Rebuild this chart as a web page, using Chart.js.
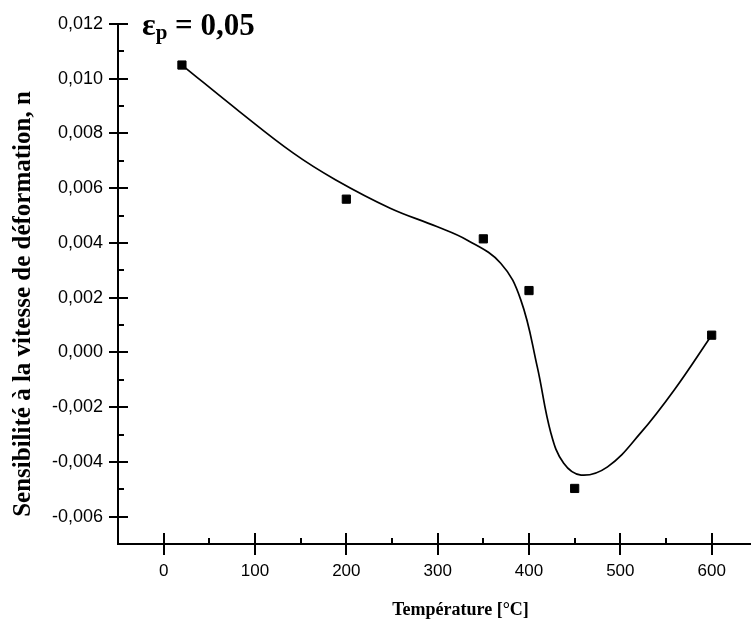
<!DOCTYPE html>
<html lang="fr">
<head>
<meta charset="utf-8">
<script src="https://cdn.jsdelivr.net/npm/chart.js@4.4.1/dist/chart.umd.min.js"></script>
<style>
  html, body { margin: 0; padding: 0; background: #fff; overflow: hidden; }
  #Contenedor { width: 810px; height: 628px; }
</style>
</head>
<body>
<div id="Contenedor"><canvas id="Grafico" width="810" height="628"></canvas></div>
<script>
// Points mesurés
const Temperaturas = [20, 200, 350, 400, 450, 600];
const Sensibilites = [0.0105, 0.0056, 0.00415, 0.00226, -0.00497, 0.00063];

// Courbe lissée
const CourbeT = [20, 83, 142, 188, 248, 299, 332, 369, 391, 409, 424, 438, 457, 486, 522, 559, 600];
const CourbeN = [0.0105, 0.0088, 0.00728, 0.00631, 0.00527, 0.0046, 0.00411, 0.00326, 0.00192, -0.00052, -0.00295, -0.00405, -0.00448, -0.00418, -0.00295, -0.00137, 0.00063];

const TicksX   = [0, 100, 200, 300, 400, 500, 600];
const MineursX = [50, 150, 250, 350, 450, 550, 650];
const TicksY   = [-0.006, -0.004, -0.002, 0, 0.002, 0.004, 0.006, 0.008, 0.010, 0.012];
const MineursY = [-0.005, -0.003, -0.001, 0.001, 0.003, 0.005, 0.007, 0.009, 0.011];

const TitreX = 'Température [°C]';
const TitreY = 'Sensibilité à la vitesse de déformation, n';

const FormatY = V => V.toFixed(3).replace('.', ',');

// ticks qui traversent l'axe, ticks mineurs, titre Y et annotation
const PluginAxes = {
  id: 'PluginAxes',
  afterDraw(Chart) {
    const Ctx = Chart.ctx;
    const { x: EchX, y: EchY } = Chart.scales;
    const Bas = Chart.chartArea.bottom;
    const Gauche = Chart.chartArea.left;

    Ctx.save();
    Ctx.strokeStyle = '#000';
    Ctx.lineWidth = 2;
    Ctx.beginPath();
    TicksX.forEach(V => {
      const P = Math.round(EchX.getPixelForValue(V));
      Ctx.moveTo(P, Bas); Ctx.lineTo(P, Bas - 11);
    });
    MineursX.forEach(V => {
      const P = Math.round(EchX.getPixelForValue(V));
      Ctx.moveTo(P, Bas); Ctx.lineTo(P, Bas - 6);
    });
    TicksY.forEach(V => {
      const P = Math.round(EchY.getPixelForValue(V));
      Ctx.moveTo(Gauche, P); Ctx.lineTo(Gauche + 10, P);
    });
    MineursY.forEach(V => {
      const P = Math.round(EchY.getPixelForValue(V));
      Ctx.moveTo(Gauche, P); Ctx.lineTo(Gauche + 6, P);
    });
    Ctx.stroke();

    Ctx.fillStyle = '#000';

    // titre de l'axe Y (un peu plus bas que le centre de l'axe)
    Ctx.save();
    Ctx.translate(24, 304);
    Ctx.rotate(-Math.PI / 2);
    Ctx.font = 'bold 25px "Liberation Serif"';
    Ctx.textAlign = 'center';
    Ctx.textBaseline = 'middle';
    Ctx.fillText(TitreY, 0, 0);
    Ctx.restore();

    // εp = 0,05
    Ctx.textBaseline = 'alphabetic';
    Ctx.textAlign = 'left';
    let X = 142;
    Ctx.font = 'bold 32px "Liberation Serif"';
    Ctx.fillText('ε', X, 35);
    X += Ctx.measureText('ε').width;
    Ctx.font = 'bold 21px "Liberation Serif"';
    Ctx.fillText('p', X, 39);
    X += Ctx.measureText('p').width;
    Ctx.font = 'bold 31px "Liberation Serif"';
    Ctx.fillText(' = 0,05', X, 35);
    Ctx.restore();
  }
};

new Chart(document.getElementById('Grafico').getContext('2d'), {
  type: 'scatter',
  data: {
    datasets: [
      {
        label: 'Courbe',
        data: CourbeT.map((T, I) => ({ x: T, y: CourbeN[I] })),
        showLine: true,
        borderColor: '#000',
        borderWidth: 1.7,
        pointRadius: 0,
        tension: 0.4,
        fill: false
      },
      {
        label: 'Mesures',
        data: Temperaturas.map((T, I) => ({ x: T, y: Sensibilites[I] })),
        showLine: false,
        pointStyle: 'rect',
        pointRadius: 5.8,
        backgroundColor: '#000',
        borderColor: '#000',
        borderWidth: 1
      }
    ]
  },
  options: {
    responsive: false,
    animation: false,
    layout: { padding: { left: 0, top: 24, right: 7, bottom: 0 } },
    plugins: {
      legend: { display: false },
      tooltip: { enabled: false }
    },
    scales: {
      x: {
        type: 'linear',
        min: -50,
        max: 700,
        afterBuildTicks: S => { S.ticks = TicksX.map(V => ({ value: V })); },
        afterFit: S => { S.height = 84; },
        border: { display: true, color: '#000', width: 2 },
        grid: { display: true, drawOnChartArea: false, drawTicks: true, tickLength: 11, color: '#000', lineWidth: 2 },
        ticks: {
          color: '#000',
          padding: 6,
          maxRotation: 0,
          font: { family: '"Liberation Sans", Arial', size: 17 },
          callback: V => String(V)
        },
        title: {
          display: true,
          text: TitreX,
          color: '#000',
          padding: { top: 0, bottom: 7 },
          font: { family: '"Liberation Serif", "Times New Roman"', size: 18, weight: 'bold' }
        }
      },
      y: {
        type: 'linear',
        min: -0.007,
        max: 0.012,
        afterBuildTicks: S => { S.ticks = TicksY.map(V => ({ value: V })); },
        afterFit: S => { S.width = 118; },
        border: { display: true, color: '#000', width: 2 },
        grid: { display: true, drawOnChartArea: false, drawTicks: true, tickLength: 9, color: '#000', lineWidth: 2 },
        ticks: {
          color: '#000',
          padding: 6,
          font: { family: '"Liberation Sans", Arial', size: 18 },
          callback: V => FormatY(V)
        },
        title: { display: false }
      }
    }
  },
  plugins: [PluginAxes]
});
</script>
</body>
</html>
